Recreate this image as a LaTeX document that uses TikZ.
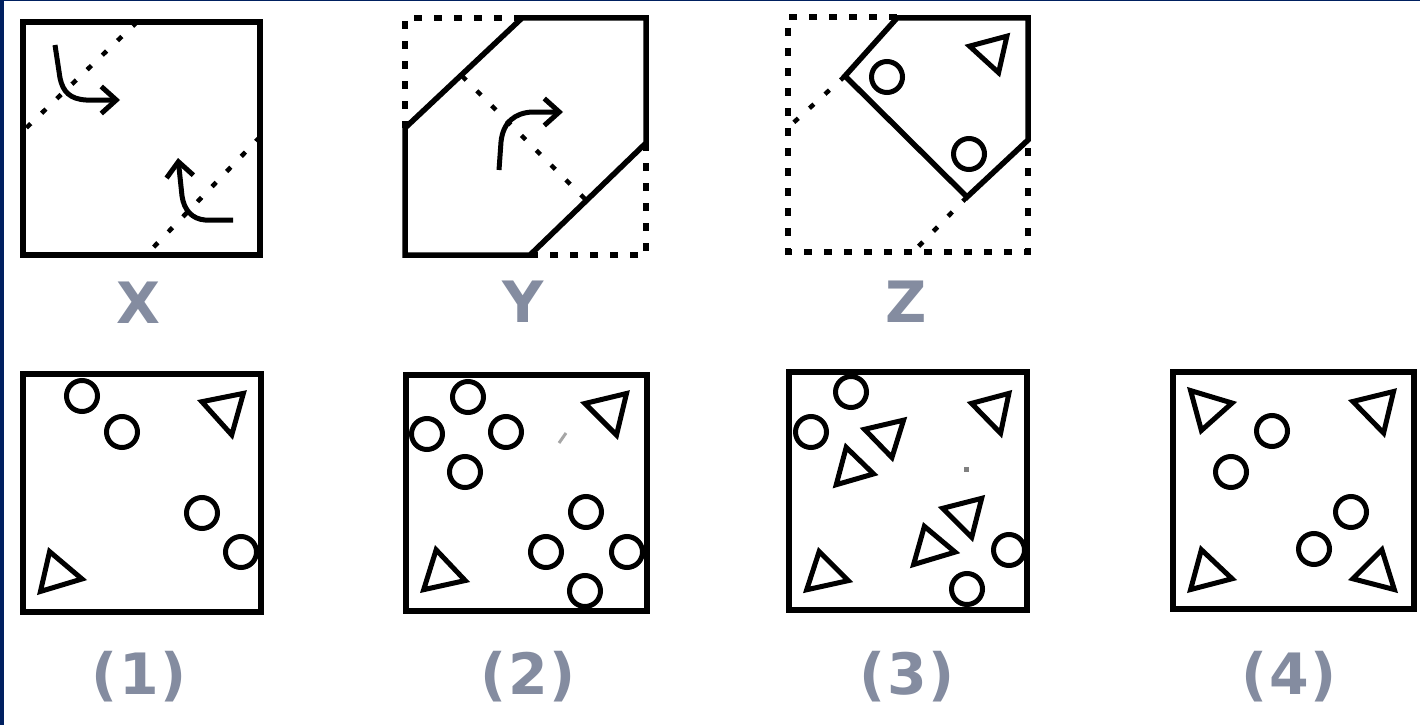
\documentclass[tikz,border=0pt]{standalone}
\usepackage{fontspec}
\newfontfamily\lblfont{DejaVu Sans}
\usetikzlibrary{arrows.meta}
\definecolor{navy}{RGB}{0,32,96}
\definecolor{lblgray}{RGB}{132,140,160}
\tikzset{
  frame/.style={line width=5.5pt, line join=miter},
  solidedge/.style={line width=5.5pt, line join=miter, line cap=rect},
  dotedge/.style={line width=5.5pt, dash pattern=on 8pt off 12pt},
  foldline/.style={line width=4.5pt, dash pattern=on 6pt off 15pt},
  ring/.style={line width=5pt},
  tri/.style={line width=5pt, line join=miter},
  bentarrow/.style={line width=5pt, -{Straight Barb[length=15pt,width=27pt]}},
  lbl/.style={text=lblgray, font=\lblfont\bfseries\fontsize{57}{60}\selectfont, inner sep=0pt},
}
\newcommand\mytri[6]{%
  \pgfmathsetmacro\tcx{(#1+#3+#5)/3}%
  \pgfmathsetmacro\tcy{(#2+#4+#6)/3}%
  \draw[tri, scale around={0.83:(\tcx,\tcy)}] (#1,#2) -- (#3,#4) -- (#5,#6) -- cycle;}
\newcommand\myring[2]{\draw[ring] (#1,#2) circle[radius=15.5];}
\newcommand\pl[1]{\kern2pt#1\kern2pt}
\begin{document}
\begin{tikzpicture}[x=1pt,y=-1pt]
\useasboundingbox (0,0) rectangle (1420,725);
\fill[white] (0,0) rectangle (1420,725);
\fill[navy] (0,0) rectangle (4,725);
\fill[navy] (0,0) rectangle (1420,1.5);

% ---------- X ----------
\draw[frame] (23,22) rectangle (260,255);
\draw[foldline] (137,22) -- (23,131);
\draw[foldline] (260,137) -- (146,255);
\draw[bentarrow] (55,45) -- (60,78) .. controls (63,92) and (70,99) .. (86,100) -- (120,100);
\draw[bentarrow] (233,220) -- (205,220) .. controls (192,219) and (184,210) .. (182,196) -- (178,158);
\node[lbl] (labX) at (138,303) {X};

% ---------- Y ----------
\draw[solidedge] (522,18) -- (646,18) -- (646,143) -- (530,255) -- (405,255) -- (405,128) -- cycle;
\draw[dotedge] (522,18) -- (405,18) -- (405,128);
\draw[dotedge] (646,143) -- (646,255) -- (530,255);
\draw[foldline] (462,76) -- (586,200);
\draw[bentarrow] (499,170) -- (501,142) .. controls (503,122) and (515,113) .. (532,112) -- (563,112);
\node[lbl] (labY) at (523,302) {Y};

% ---------- Z ----------
\draw[solidedge] (897,18) -- (1028,18) -- (1028,140) -- (967,197) -- (845,76) -- cycle;
\draw[dotedge] (897,17) -- (788,17) -- (788,252) -- (1028,252) -- (1028,140);
\draw[foldline] (845,76) -- (792,124);
\draw[foldline] (967,197) -- (913,252);
\myring{887}{77}
\myring{969}{154}
\mytri{965}{45}{1010}{33}{1000}{77}
\node[lbl] (labZ) at (906,302) {Z};

% ---------- (1) ----------
\draw[frame] (23,374) rectangle (261,612);
\myring{82}{396}
\myring{122}{432}
\myring{202}{513}
\myring{241}{552}
\mytri{197}{400}{247}{390}{233}{440}
\mytri{48}{547}{87}{580}{37}{595}
\node[lbl] (lab1) at (139,677) {(\pl{1})};

% ---------- (2) ----------
\draw[frame] (406,375) rectangle (647,611);
\myring{468}{397}
\myring{427}{434}
\myring{506}{432}
\myring{465}{472}
\myring{586}{512}
\myring{546}{552}
\myring{627}{552}
\myring{585}{591}
\mytri{580}{402}{630}{390}{618}{440}
\mytri{435}{545}{470}{582}{420}{593}
\draw[gray!70, line width=3pt] (559,443) -- (566,433);
\node[lbl] (lab2) at (528,677) {(\pl{2})};

% ---------- (3) ----------
\draw[frame] (789,372) rectangle (1027,610);
\myring{851}{392}
\myring{811}{432}
\myring{1009}{550}
\myring{967}{589}
\mytri{967}{402}{1012}{390}{1002}{438}
\mytri{818}{547}{853}{582}{803}{593}
\mytri{860}{428}{907}{417}{893}{462}
\mytri{845}{443}{878}{475}{833}{488}
\mytri{938}{507}{985}{495}{973}{542}
\mytri{923}{522}{960}{553}{910}{568}
\fill[gray] (964,467) rectangle (969,472);
\node[lbl] (lab3) at (907,677) {(\pl{3})};

% ---------- (4) ----------
\draw[frame] (1173,372) rectangle (1414,609);
\myring{1272}{431}
\myring{1231}{472}
\myring{1351}{512}
\myring{1314}{549}
\mytri{1187}{387}{1237}{402}{1200}{435}
\mytri{1348}{400}{1397}{388}{1385}{438}
\mytri{1200}{545}{1237}{580}{1187}{593}
\mytri{1383}{545}{1398}{593}{1348}{580}
\node[lbl] (lab4) at (1289,677) {(\pl{4})};
\end{tikzpicture}
\end{document}
